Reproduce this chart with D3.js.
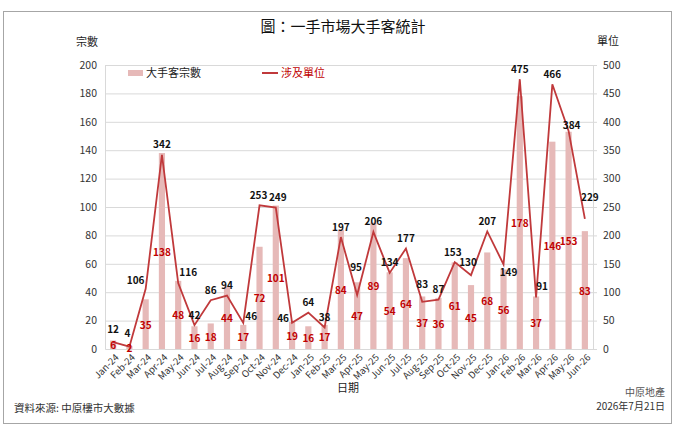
<!DOCTYPE html>
<html>
<head>
<meta charset="utf-8">
<script src="https://cdn.jsdelivr.net/npm/d3@7"></script>
<style>
body { margin: 0; background: #fff; }
text { font-family: "Noto Sans CJK TC", sans-serif; }
.num { font-family: Lato, "Liberation Sans", sans-serif; }
</style>
</head>
<body>
<svg id="chart" width="689" height="443"></svg>
<script>
// data
var months = ["Jan-24","Feb-24","Mar-24","Apr-24","May-24","Jun-24","Jul-24","Aug-24","Sep-24","Oct-24","Nov-24","Dec-24",
              "Jan-25","Feb-25","Mar-25","Apr-25","May-25","Jun-25","Jul-25","Aug-25","Sep-25","Oct-25","Nov-25","Dec-25",
              "Jan-26","Feb-26","Mar-26","Apr-26","May-26","Jun-26"];
var deals = [6,2,35,138,48,16,18,44,17,72,101,19,16,17,84,47,89,54,64,37,36,61,45,68,56,178,37,146,153,83];
var units = [12,4,106,342,116,42,86,94,46,253,249,46,64,38,197,95,206,134,177,83,87,153,130,207,149,475,91,466,384,229];
var leftTicks = [0,20,40,60,80,100,120,140,160,180,200];
var rightTicks = [0,50,100,150,200,250,300,350,400,450,500];

var svg = d3.select("#chart"),
    margin = {top: 65, right: 96, bottom: 94, left: 105},
    width = +svg.attr("width") - margin.left - margin.right,
    height = +svg.attr("height") - margin.top - margin.bottom;

var barColor = "#e6b9b8", lineColor = "#c0393b", labelRed = "#c00000";

// outer frame
svg.append("rect")
    .attr("x", 3.5).attr("y", 11.5)
    .attr("width", 668).attr("height", 412)
    .attr("fill", "none").attr("stroke", "#a6a6a6");

var x = d3.scaleBand().domain(months).range([0, width]).paddingInner(0.62).paddingOuter(0.31),
    yL = d3.scaleLinear().domain([0, 200]).range([height, 0]),
    yR = d3.scaleLinear().domain([0, 500]).range([height, 0]);

var g = svg.append("g")
    .attr("transform", "translate(" + margin.left + "," + margin.top + ")");

// grid
g.append("g").selectAll("line")
  .data(leftTicks.slice(1))
  .enter().append("line")
    .attr("x1", 0).attr("x2", width)
    .attr("y1", function(d) { return yL(d) + 0.5; })
    .attr("y2", function(d) { return yL(d) + 0.5; })
    .attr("stroke", "#d9d9d9");

// left axis
var axL = g.append("g").attr("class", "num")
    .call(d3.axisLeft(yL).tickValues(leftTicks).tickSize(0).tickPadding(8));
axL.select(".domain").attr("stroke", "#d9d9d9");
axL.selectAll("text").attr("font-size", 10.5).attr("fill", "#333").attr("font-family", "Lato, sans-serif");

// right axis
var axR = g.append("g").attr("transform", "translate(" + width + ",0)")
    .call(d3.axisRight(yR).tickValues(rightTicks).tickSize(4).tickPadding(6));
axR.select(".domain").attr("stroke", "#d9d9d9");
axR.selectAll("line").attr("stroke", "#d9d9d9");
axR.selectAll("text").attr("font-size", 10.5).attr("fill", "#333").attr("font-family", "Lato, sans-serif");

// bottom axis
var axB = g.append("g").attr("transform", "translate(0," + height + ")")
    .call(d3.axisBottom(x).tickSize(0).tickPadding(7));
axB.select(".domain").attr("stroke", "#d9d9d9");
axB.selectAll("text")
    .attr("font-size", 9.5).attr("fill", "#333").attr("font-family", "Lato, sans-serif")
    .attr("text-anchor", "end")
    .attr("dx", "-0.2em").attr("dy", "0.4em")
    .attr("transform", "rotate(-45)");

// bars
g.selectAll(".bar")
  .data(deals)
  .enter().append("rect")
    .attr("class", "bar")
    .attr("x", function(d, i) { return x(months[i]); })
    .attr("y", function(d) { return yL(d); })
    .attr("width", x.bandwidth())
    .attr("height", function(d) { return height - yL(d); })
    .attr("fill", barColor);

// line
var line = d3.line()
    .x(function(d, i) { return x(months[i]) + x.bandwidth() / 2; })
    .y(function(d) { return yR(d); });

g.append("path")
    .datum(units)
    .attr("fill", "none")
    .attr("stroke", lineColor)
    .attr("stroke-width", 1.8)
    .attr("d", line);

// bar labels (red, middle of bar)
g.selectAll(".blab")
  .data(deals)
  .enter().append("text")
    .attr("class", "blab")
    .attr("x", function(d, i) { return x(months[i]) + x.bandwidth() / 2; })
    .attr("y", function(d) { return (yL(d) + height) / 2 + 1; })
    .attr("dy", "0.35em")
    .attr("text-anchor", "middle")
    .attr("font-family", "Lato, sans-serif")
    .attr("font-weight", "bold")
    .attr("font-size", 10)
    .attr("fill", labelRed)
    .text(function(d) { return d; });

// line labels, nudged where Excel moved them
var nudge = {0: [0, -13], 1: [-2, -13], 2: [-10, -8], 4: [10, -11], 8: [8, -6], 9: [-1, -10], 10: [2, -10],
             11: [-9, -4], 15: [-1, -28], 19: [0, -17], 21: [-2, -10], 22: [-3, -13], 24: [5, 8], 26: [6, -11],
             28: [3, -5], 29: [5, -21]};
g.selectAll(".llab")
  .data(units)
  .enter().append("text")
    .attr("class", "llab")
    .attr("x", function(d, i) { return x(months[i]) + x.bandwidth() / 2 + (nudge[i] ? nudge[i][0] : 0); })
    .attr("y", function(d, i) { return yR(d) + (nudge[i] ? nudge[i][1] : -10); })
    .attr("dy", "0.35em")
    .attr("text-anchor", "middle")
    .attr("font-family", "Lato, sans-serif")
    .attr("font-weight", "bold")
    .attr("font-size", 10)
    .attr("fill", "#111")
    .text(function(d) { return d; });

// legend
var leg = g.append("g").attr("transform", "translate(23,8)");
leg.append("rect").attr("x", 0).attr("y", -3).attr("width", 15).attr("height", 6).attr("fill", barColor);
leg.append("text").attr("x", 18).attr("y", 0).attr("dy", "0.35em")
    .attr("font-size", 11).attr("fill", "#222").text("大手客宗數");
leg.append("line").attr("x1", 134).attr("x2", 150).attr("y1", 0).attr("y2", 0)
    .attr("stroke", lineColor).attr("stroke-width", 2);
leg.append("text").attr("x", 153).attr("y", 0).attr("dy", "0.35em")
    .attr("font-size", 11).attr("fill", labelRed).text("涉及單位");

// titles
svg.append("text").attr("x", 343).attr("y", 27).attr("dy", "0.35em")
    .attr("text-anchor", "middle").attr("font-size", 15).attr("fill", "#111")
    .text("圖：一手市場大手客統計");
svg.append("text").attr("x", 87).attr("y", 42).attr("dy", "0.35em")
    .attr("text-anchor", "middle").attr("font-size", 11).attr("fill", "#222").text("宗數");
svg.append("text").attr("x", 608).attr("y", 41).attr("dy", "0.35em")
    .attr("text-anchor", "middle").attr("font-size", 11).attr("fill", "#222").text("單位");
svg.append("text").attr("x", 348).attr("y", 388).attr("dy", "0.35em")
    .attr("text-anchor", "middle").attr("font-size", 11).attr("fill", "#222").text("日期");
svg.append("text").attr("x", 14).attr("y", 408).attr("dy", "0.35em")
    .attr("font-size", 10.5).attr("fill", "#333").text("資料來源: 中原樓市大數據");
svg.append("text").attr("x", 665).attr("y", 392).attr("dy", "0.35em")
    .attr("text-anchor", "end").attr("font-size", 10).attr("fill", "#555").text("中原地產");
svg.append("text").attr("x", 665).attr("y", 406).attr("dy", "0.35em")
    .attr("text-anchor", "end").attr("font-size", 10).attr("fill", "#333").text("2026年7月21日");
</script>
</body>
</html>
